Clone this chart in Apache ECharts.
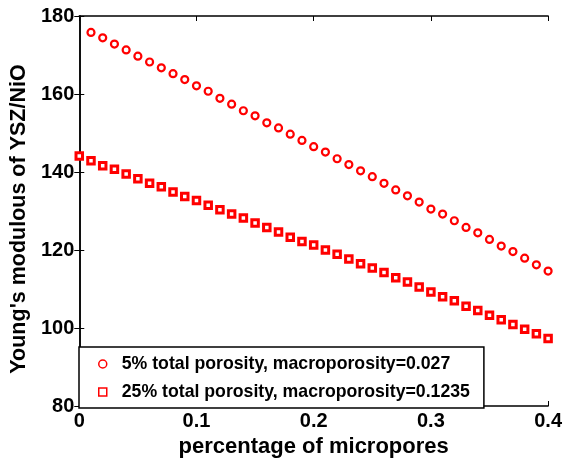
<!DOCTYPE html>
<html>
<head>
<meta charset="utf-8">
<script src="https://cdn.jsdelivr.net/npm/echarts@6/dist/echarts.min.js"></script>
<style>html,body{margin:0;padding:0;background:#fff;}#c{width:565px;height:464px;}</style>
</head>
<body>
<div id="c"></div>
<script>
var seriesNames = ['5% total porosity, macroporosity=0.027', '25% total porosity, macroporosity=0.1235'];
var xCircle = [0.01,0.02,0.03,0.04,0.05,0.06,0.07,0.08,0.09,0.10,0.11,0.12,0.13,0.14,0.15,0.16,0.17,0.18,0.19,0.20,0.21,0.22,0.23,0.24,0.25,0.26,0.27,0.28,0.29,0.30,0.31,0.32,0.33,0.34,0.35,0.36,0.37,0.38,0.39,0.40];
var yCircle = [175.8,174.4,172.8,171.3,169.7,168.2,166.7,165.2,163.7,162.1,160.7,158.9,157.4,155.7,154.4,152.6,151.3,149.7,148.1,146.5,145.1,143.4,141.9,140.3,138.8,137.1,135.4,133.9,132.3,130.5,129.2,127.5,125.8,124.4,122.7,121.0,119.6,117.9,116.2,114.6];
var xSquare = [0,0.01,0.02,0.03,0.04,0.05,0.06,0.07,0.08,0.09,0.10,0.11,0.12,0.13,0.14,0.15,0.16,0.17,0.18,0.19,0.20,0.21,0.22,0.23,0.24,0.25,0.26,0.27,0.28,0.29,0.30,0.31,0.32,0.33,0.34,0.35,0.36,0.37,0.38,0.39,0.40];
var ySquare = [144.1,142.9,141.6,140.7,139.5,138.3,137.1,136.2,134.9,133.7,132.7,131.5,130.3,129.2,128.2,126.9,125.8,124.6,123.3,122.2,121.3,120.0,118.9,117.7,116.5,115.4,114.2,112.9,111.8,110.5,109.2,108.0,107.0,105.6,104.5,103.3,102.1,100.9,99.7,98.5,97.3];
var xTicks = [0, 0.1, 0.2, 0.3, 0.4];
var yTicks = [80, 100, 120, 140, 160, 180];

function pairs(xs, ys) { return xs.map(function (x, i) { return [x, ys[i]]; }); }

var FONT = '"Liberation Sans", Arial, sans-serif';
var chart = echarts.init(document.getElementById('c'), null, {renderer: 'canvas'});
var axisCommon = {
  axisLine: {show: true, lineStyle: {color: '#000', width: 1.5}},
  axisTick: {show: true, inside: true, length: 5, lineStyle: {color: '#000', width: 1}},
  splitLine: {show: false}
};
chart.setOption({
  animation: false,
  backgroundColor: '#fff',
  grid: {left: 79, right: 15, top: 16, bottom: 58, containLabel: false},
  xAxis: [
    Object.assign({
      type: 'value', min: xTicks[0], max: xTicks[xTicks.length - 1], interval: 0.1,
      position: 'bottom',
      name: 'percentage of micropores', nameLocation: 'middle', nameGap: 30,
      nameTextStyle: {fontFamily: FONT, fontWeight: 'bold', fontSize: 22, color: '#000'},
      axisLabel: {margin: 5, fontFamily: FONT, fontWeight: 'bold', fontSize: 20, color: '#000',
        formatter: function (v) { return String(Math.round(v * 10) / 10); }}
    }, axisCommon),
    Object.assign({
      type: 'value', min: xTicks[0], max: xTicks[xTicks.length - 1], interval: 0.1,
      position: 'top', axisLabel: {show: false}
    }, axisCommon)
  ],
  yAxis: [
    Object.assign({
      type: 'value', min: yTicks[0], max: yTicks[yTicks.length - 1], interval: 20,
      position: 'left',
      name: "Young's modulous of YSZ/NiO", nameLocation: 'middle', nameGap: 47,
      nameTextStyle: {fontFamily: FONT, fontWeight: 'bold', fontSize: 21.5, color: '#000', padding: [0, 16, 0, 0]},
      axisLabel: {margin: 5, fontFamily: FONT, fontWeight: 'bold', fontSize: 20, color: '#000'}
    }, axisCommon),
    Object.assign({
      type: 'value', min: yTicks[0], max: yTicks[yTicks.length - 1], interval: 20,
      position: 'right', axisLabel: {show: false}
    }, axisCommon)
  ],
  legend: {
    show: true,
    orient: 'vertical',
    left: 79, top: 347,
    padding: [7, 14, 6, 19],
    itemWidth: 8, itemHeight: 8, itemGap: 8,
    borderColor: '#000', borderWidth: 1.5, backgroundColor: '#fff',
    textStyle: {fontFamily: FONT, fontWeight: 'bold', fontSize: 17.7, color: '#000', lineHeight: 20, padding: [0, 0, 0, 10]},
    data: [
      {name: seriesNames[0], icon: 'circle', itemStyle: {color: '#fff', borderColor: '#ff0000', borderWidth: 1.5}},
      {name: seriesNames[1], icon: 'rect', itemStyle: {color: '#fff', borderColor: '#ff0000', borderWidth: 1.5}}
    ]
  },
  series: [
    {
      name: seriesNames[0], type: 'scatter', xAxisIndex: 0, yAxisIndex: 0,
      symbol: 'circle', symbolSize: 7,
      itemStyle: {color: '#fff', borderColor: '#ff0000', borderWidth: 2.2, opacity: 1},
      data: pairs(xCircle, yCircle)
    },
    {
      name: seriesNames[1], type: 'scatter', xAxisIndex: 0, yAxisIndex: 0,
      symbol: 'rect', symbolSize: 6.5,
      itemStyle: {color: '#fff', borderColor: '#ff0000', borderWidth: 3, opacity: 1},
      data: pairs(xSquare, ySquare)
    }
  ]
});
</script>
</body>
</html>
